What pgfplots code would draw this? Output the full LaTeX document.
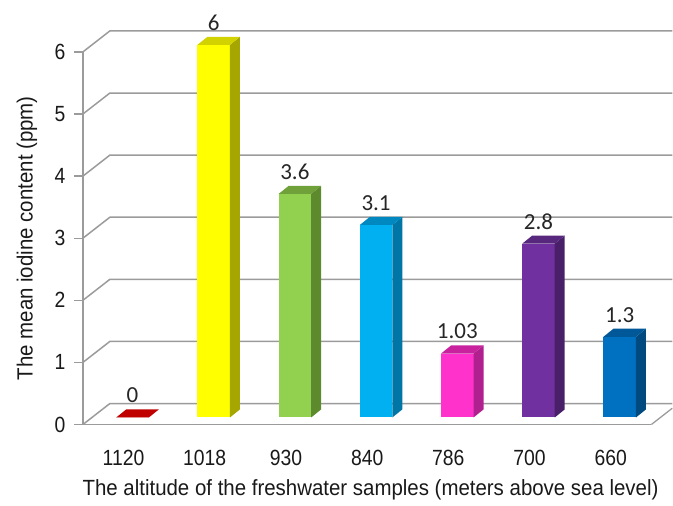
\documentclass[border=0pt]{standalone}
\usepackage{pgfplots}
\pgfplotsset{compat=1.18}
\usepackage{fontspec}
\setmainfont{Liberation Sans}
\newfontfamily\axfont[FakeStretch=0.88]{Liberation Sans}
\newfontfamily\lblfont[FakeStretch=0.93]{Liberation Sans}
\newfontfamily\valfont{Carlito}

\definecolor{linegray}{RGB}{155,155,155}
\definecolor{redF}{HTML}{C00000}
\definecolor{yelF}{HTML}{FFFF00}\definecolor{yelS}{HTML}{A6A600}\definecolor{yelT}{HTML}{D2D200}
\definecolor{grnF}{HTML}{92D050}\definecolor{grnS}{HTML}{5E8A2E}\definecolor{grnT}{HTML}{70A03A}
\definecolor{cyaF}{HTML}{00B0F0}\definecolor{cyaS}{HTML}{0076A6}\definecolor{cyaT}{HTML}{0088C0}
\definecolor{magF}{HTML}{FF33CC}\definecolor{magS}{HTML}{B0208E}\definecolor{magT}{HTML}{C8229E}
\definecolor{purF}{HTML}{7030A0}\definecolor{purS}{HTML}{4A1F6A}\definecolor{purT}{HTML}{58287E}
\definecolor{bluF}{HTML}{0070C0}\definecolor{bluS}{HTML}{004A80}\definecolor{bluT}{HTML}{005898}

% #1 category index, #2 value, #3 front, #4 side, #5 top colour
\newcommand{\barthreed}[5]{%
  \pgfmathsetmacro{\xa}{#1+0.41}%
  \pgfmathsetmacro{\xb}{#1+0.81}%
  \pgfmathsetmacro{\xc}{#1+0.933}%
  \pgfmathsetmacro{\xd}{#1+0.533}%
  \pgfmathsetmacro{\xm}{#1+0.61}%
  \pgfmathsetmacro{\yt}{#2+0.113}%
  \pgfmathsetmacro{\ytb}{#2+0.243}%
  \addplot[fill=#3, draw=none] coordinates {(\xa,0.113) (\xb,0.113) (\xb,\yt) (\xa,\yt)};
  \addplot[fill=#4, draw=none] coordinates {(\xb,0.113) (\xc,0.243) (\xc,\ytb) (\xb,\yt)};
  \addplot[fill=#5, draw=none] coordinates {(\xa,\yt) (\xb,\yt) (\xc,\ytb) (\xd,\ytb)};
  \addplot[only marks, mark=none, point meta=explicit symbolic, nodes near coords,
    nodes near coords style={anchor=center, yshift=22pt, text=black!85,
      font=\valfont\fontsize{23}{26}\selectfont}]
    coordinates {(\xm,\yt) [#2]};
}

\begin{document}
\begin{tikzpicture}
\begin{axis}[
  x=81.3pt, y=62.17pt,
  xmin=0, xmax=7, ymin=0, ymax=6,
  clip=false,
  axis x line=bottom, axis y line=left,
  axis line style={-, draw=linegray, line width=1.3pt},
  tick style={draw=linegray, line width=1.3pt},
  tick align=outside, major tick length=9pt,
  xtick={0.5,1.5,2.5,3.5,4.5,5.5,6.5},
  xticklabels={1120,1018,930,840,786,700,660},
  xtick style={draw=none},
  extra x ticks={0,1,2,3,4,5,6,7},
  extra x tick labels={},
  extra x tick style={tick style={draw=linegray, line width=1.3pt}},
  xticklabel style={yshift=-13pt, text=black!90, font=\axfont\fontsize{22}{26}\selectfont},
  ytick={0,...,6},
  yticklabel style={xshift=-5pt, text=black!90, font=\axfont\fontsize{22}{26}\selectfont},
  /pgf/number format/assume math mode=true,
  xlabel={The altitude of the freshwater samples (meters above sea level)},
  ylabel={The mean iodine content (ppm)},
  xlabel style={at={(axis description cs:0.506,-0.19)}, anchor=base, text=black!90, font=\lblfont\fontsize{22}{26}\selectfont},
  ylabel style={at={(axis description cs:-0.0984,0.5)}, anchor=center, text=black!90, font=\lblfont\fontsize{22}{26}\selectfont},
]
% bounding box of the whole picture
\path (axis cs:-1.021,-1.303) rectangle (axis cs:7.257,6.836);
% back wall grid lines and side wall diagonals
\draw[linegray, line width=1.5pt] (axis cs:0,0) -- (axis cs:0.332,0.338) -- (axis cs:7.257,0.338);
\draw[linegray, line width=1.5pt] (axis cs:0,1) -- (axis cs:0.332,1.338) -- (axis cs:7.257,1.338);
\draw[linegray, line width=1.5pt] (axis cs:0,2) -- (axis cs:0.332,2.338) -- (axis cs:7.257,2.338);
\draw[linegray, line width=1.5pt] (axis cs:0,3) -- (axis cs:0.332,3.338) -- (axis cs:7.257,3.338);
\draw[linegray, line width=1.5pt] (axis cs:0,4) -- (axis cs:0.332,4.338) -- (axis cs:7.257,4.338);
\draw[linegray, line width=1.5pt] (axis cs:0,5) -- (axis cs:0.332,5.338) -- (axis cs:7.257,5.338);
\draw[linegray, line width=1.5pt] (axis cs:0,6) -- (axis cs:0.332,6.338) -- (axis cs:7.257,6.338);
\draw[linegray, line width=1.3pt] (axis cs:7,0) -- (axis cs:7.257,0.262);
% bars
\barthreed{0}{0}{redF}{redF}{redF}
\barthreed{1}{6}{yelF}{yelS}{yelT}
\barthreed{2}{3.6}{grnF}{grnS}{grnT}
\barthreed{3}{3.1}{cyaF}{cyaS}{cyaT}
\barthreed{4}{1.03}{magF}{magS}{magT}
\barthreed{5}{2.8}{purF}{purS}{purT}
\barthreed{6}{1.3}{bluF}{bluS}{bluT}
\end{axis}
\end{tikzpicture}
\end{document}
